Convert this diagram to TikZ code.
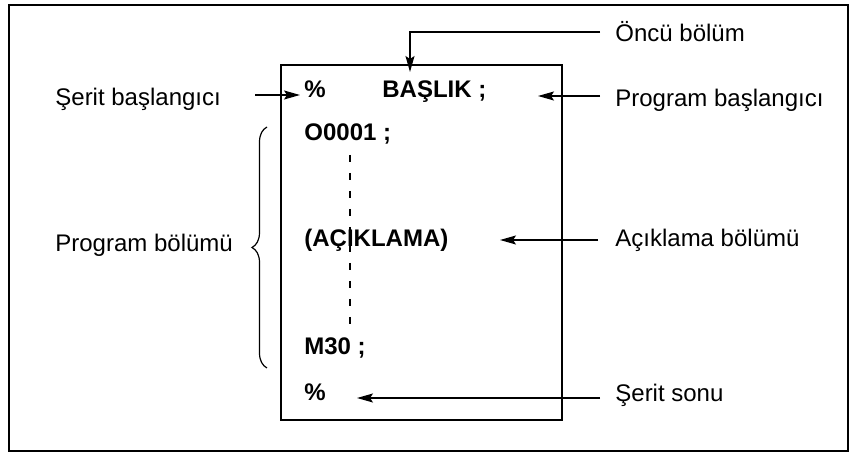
\documentclass[tikz,border=0pt]{standalone}
\usepackage{fontspec}
\setmainfont{Liberation Sans}
\usetikzlibrary{arrows.meta,decorations.pathreplacing}

\tikzset{
 lbl/.style={inner sep=0pt,anchor=base west,font=\fontsize{12}{14}\selectfont},
 code/.style={inner sep=0pt,anchor=base west,font=\fontsize{12}{14}\selectfont\bfseries},
 arr/.style={-{Stealth[length=8pt,width=4.5pt,inset=1.5pt]},line width=0.6pt}
}

\begin{document}
\begin{tikzpicture}[x=0.5pt,y=-0.5pt]
 \useasboundingbox (0,0) rectangle (853,453);
 \draw[line width=1pt] (9,5) rectangle (848,451);
 \draw[line width=0.8pt] (281,65) rectangle (562,420);
 % program tape
 \draw[line width=0.7pt,dash pattern=on 3.5pt off 5.5pt] (350,155) -- (350,332);
 \node[code] (pct1) at (304,98) {\%};
 \node[code] (hdr) at (382,98) {BAŞLIK ;};
 \node[code] (o0001) at (304,141) {O0001 ;};
 \node[code] (cmt) at (304,247) {(AÇIKLAMA)};
 \node[code] (m30) at (304,355) {M30 ;};
 \node[code] (pct2) at (304,401) {\%};
 % labels
 \node[lbl] (sbas) at (55,106) {Şerit başlangıcı};
 \node[lbl] (pbol) at (55,252) {Program bölümü};
 \node[lbl] (oncu) at (615,42) {Öncü bölüm};
 \node[lbl] (pbas) at (615,107) {Program başlangıcı};
 \node[lbl] (acik) at (615,247) {Açıklama bölümü};
 \node[lbl] (ssonu) at (615,402) {Şerit sonu};
 % arrows
 \coordinate (sbastip) at (300,95);
 \coordinate (oncutip) at (410,72);
 \coordinate (pbastip) at (538,96);
 \coordinate (aciktip) at (500,240);
 \coordinate (ssonutip) at (357,398);
 \draw[arr] (sbas.east |- sbastip) ++(17pt,0) -- (sbastip);
 \draw[arr] (oncu.west) ++(-7.5pt,0) -| (oncutip);
 \draw[arr] (pbas.west |- pbastip) ++(-7.5pt,0) -- (pbastip);
 \draw[arr] (acik.west |- aciktip) ++(-8.5pt,0) -- (aciktip);
 \draw[arr] (ssonu.west |- ssonutip) ++(-7.5pt,0) -- (ssonutip);
 \draw[line width=0.6pt,decorate,decoration={brace,amplitude=7.5pt}]
  (267,368) -- (267,127);
\end{tikzpicture}
\end{document}
